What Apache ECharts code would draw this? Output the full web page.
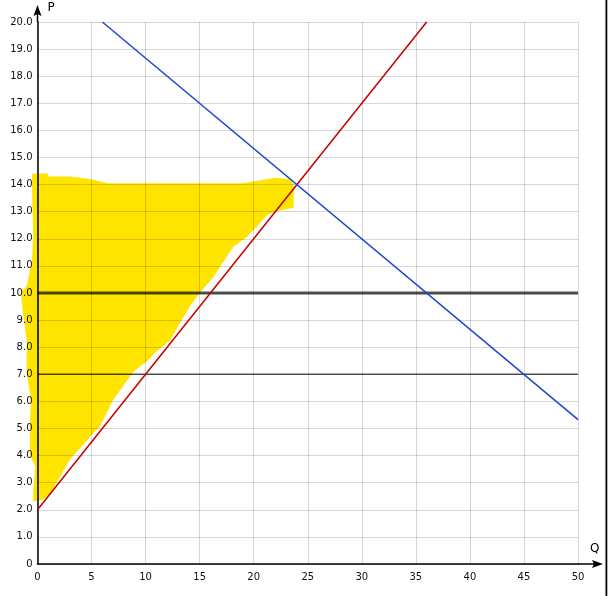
<!DOCTYPE html>
<html>
<head>
<meta charset="utf-8">
<script src="https://cdn.jsdelivr.net/npm/echarts@6/dist/echarts.min.js"></script>
<style>html,body{margin:0;padding:0;background:#fff}#c{width:611px;height:596px}</style>
</head>
<body>
<div id="c"></div>
<script>
// ---- data ----
var xTicks = [0, 5, 10, 15, 20, 25, 30, 35, 40, 45, 50];
var yTicks = [0, 1, 2, 3, 4, 5, 6, 7, 8, 9, 10, 11, 12, 13, 14, 15, 16, 17, 18, 19, 20];
var supplyQ = [0, 36];
var supplyP = [2, 20];
var demandQ = [6, 50];
var demandP = [20, 5.33];
var priceLineHigh = 10;
var priceLineLow = 7;
// hand-drawn highlighted area outline (Q, P)
var highlightQ = [-0.5, 0.9, 1.0, 3.0, 5.0, 6.5, 19.0, 20.5, 22.0, 23.4, 23.7, 23.7, 22.5, 21.3, 20.3, 19.4, 18.1, 16.3, 15.0, 14.1, 13.2, 12.3, 11.0, 10.1, 8.9, 7.9, 7.0, 5.8, 4.9, 3.0, 2.1, 1.2, 0.5, -0.4, -0.4, -0.2, -0.7, -0.7, -0.6, -1.0, -1.0, -1.3, -1.5, -1.4, -1.0, -0.5, -0.4, -0.5];
var highlightP = [14.4, 14.42, 14.3, 14.3, 14.2, 14.05, 14.05, 14.15, 14.25, 14.2, 14.0, 13.15, 13.05, 12.9, 12.45, 12.08, 11.7, 10.6, 10.0, 9.5, 8.9, 8.27, 7.84, 7.47, 7.1, 6.55, 6.06, 5.08, 4.71, 3.85, 3.23, 2.62, 2.37, 2.31, 2.74, 3.6, 4.03, 5.2, 6.06, 7.05, 8.27, 9.13, 9.87, 10.1, 10.24, 11.22, 12.2, 13.69];

function pairs(a, b) { return a.map(function (v, i) { return [v, b[i]]; }); }

var chart = echarts.init(document.getElementById('c'), null, {renderer: 'canvas'});
var font = 'DejaVu Sans';
var gridLine = {color: 'rgba(0,0,0,0.16)', width: 1};
var option = {
  animation: false,
  backgroundColor: '#fff',
  grid: {left: 37.5, right: 33, top: 22, bottom: 32},
  xAxis: {
    type: 'value', min: xTicks[0], max: xTicks[xTicks.length - 1], interval: 5, z: 3,
    axisLine: {show: true, onZero: false, lineStyle: {color: '#000', width: 1.5}},
    axisTick: {show: false},
    splitLine: {show: true, lineStyle: gridLine},
    axisLabel: {color: '#111', fontFamily: font, fontSize: 10, margin: 8}
  },
  yAxis: {
    type: 'value', min: yTicks[0], max: yTicks[yTicks.length - 1], interval: 1, z: 3,
    axisLine: {show: true, onZero: false, lineStyle: {color: '#000', width: 1.5}},
    axisTick: {show: false},
    splitLine: {show: true, lineStyle: gridLine},
    axisLabel: {color: '#111', fontFamily: font, fontSize: 10, margin: 5,
      formatter: function (v) { return v === 0 ? '0' : v.toFixed(1); }}
  },
  series: [
    {
      type: 'custom', name: 'highlight', clip: false, z: 1,
      data: [0],
      renderItem: function (params, api) {
        var pts = pairs(highlightQ, highlightP).map(function (p) { return api.coord(p); });
        return {type: 'polygon', shape: {points: pts}, style: {fill: '#FFE400'}};
      }
    },
    {
      type: 'line', name: 'P10', data: [[xTicks[0], priceLineHigh], [xTicks[xTicks.length - 1], priceLineHigh]],
      symbol: 'none', lineStyle: {color: 'rgba(0,0,0,0.68)', width: 3}, z: 4
    },
    {
      type: 'line', name: 'P7', data: [[xTicks[0], priceLineLow], [xTicks[xTicks.length - 1], priceLineLow]],
      symbol: 'none', lineStyle: {color: 'rgba(0,0,0,0.66)', width: 1.5}, z: 4
    },
    {
      type: 'line', name: 'supply', data: pairs(supplyQ, supplyP),
      symbol: 'none', lineStyle: {color: '#C00000', width: 1.5}, z: 5
    },
    {
      type: 'line', name: 'demand', data: pairs(demandQ, demandP),
      symbol: 'none', lineStyle: {color: '#2244CC', width: 1.5}, z: 5
    }
  ]
};
chart.setOption(option);

var o = chart.convertToPixel({xAxisIndex: 0, yAxisIndex: 0}, [0, 0]);
var xe = chart.convertToPixel({xAxisIndex: 0, yAxisIndex: 0}, [50, 20]);
var ox = o[0], oy = o[1], ex = xe[0], ey = xe[1];
chart.setOption({
  graphic: [
    {type: 'line', shape: {x1: ex, y1: oy, x2: 596, y2: oy}, style: {stroke: '#000', lineWidth: 1.5}, z: 10},
    {type: 'polygon', shape: {points: [[603, oy], [592, oy - 4], [594, oy], [592, oy + 4]]}, style: {fill: '#000'}, z: 10},
    {type: 'line', shape: {x1: ox, y1: ey, x2: ox, y2: 12}, style: {stroke: '#000', lineWidth: 1.5}, z: 10},
    {type: 'polygon', shape: {points: [[ox, 5], [ox - 4, 16], [ox, 14], [ox + 4, 16]]}, style: {fill: '#000'}, z: 10},
    {type: 'text', style: {x: ox + 10, y: 2, text: 'P', fill: '#000', font: '12px ' + font}, z: 10},
    {type: 'text', style: {x: 590, y: 543, text: 'Q', fill: '#000', font: '12px ' + font}, z: 10},
    {type: 'rect', shape: {x: 605.5, y: 0, width: 1.8, height: 596}, style: {fill: '#000'}, z: 10}
  ]
});
</script>
</body>
</html>
